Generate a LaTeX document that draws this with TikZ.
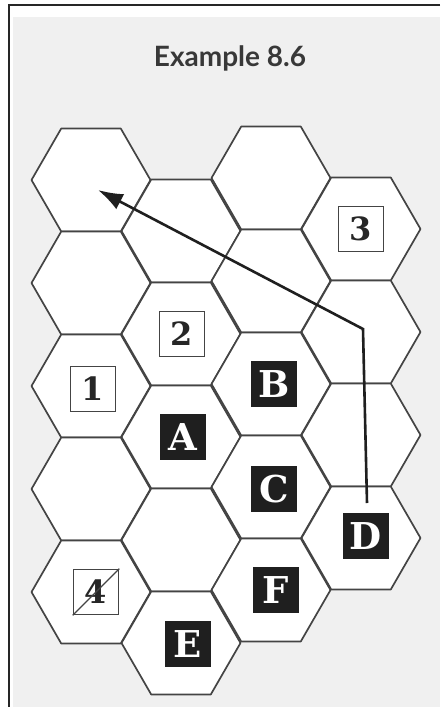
\documentclass[tikz,border=0pt]{standalone}
\usepackage{fontspec}
\usetikzlibrary{arrows.meta}
\newfontfamily\titlefont{Lato}
\newfontfamily\labelfont{DejaVu Serif}
\definecolor{paper}{HTML}{F0F0F0}
\definecolor{hexedge}{HTML}{444444}
\tikzset{
  hexline/.style={draw=hexedge, line width=1.7pt, fill=white, line join=round},
  hexcell/.pic={\path[hexline] (0:59.5) -- (60:59.5) -- (120:59.5) -- (180:59.5) -- (240:59.5) -- (300:59.5) -- cycle;},
  numbox/.style={draw=hexedge, line width=1.6pt, fill=white, minimum size=45pt, inner sep=0pt, font=\labelfont\bfseries\fontsize{32}{32}\selectfont, text=black!85},
  letbox/.style={draw=black!88, fill=black!88, minimum size=45pt, inner sep=0pt, font=\labelfont\bfseries\fontsize{37}{37}\selectfont, text=white},
  route/.style={draw=black!88, line width=2.6pt, line join=miter, -{Latex[length=25pt,width=17pt]}}
}
\begin{document}
\begin{tikzpicture}[x=1pt,y=-1pt]
\useasboundingbox (0,0) rectangle (440,707);
\fill[white] (0,0) rectangle (440,707);
\fill[paper] (13,17) rectangle (440,707);
\draw[black!85, line width=1.4pt] (440,5) -- (9,5) -- (9,707);
\node[font=\titlefont\bfseries\fontsize{28}{28}\selectfont, text=black!78] (title) at (230,58) {Example 8.6};
% column 1
\foreach \yy in {180,283,386,489,592} { \pic at (91,\yy) {hexcell}; }
% column 2
\foreach \yy in {231,334,437,540,643} { \pic at (181,\yy) {hexcell}; }
% column 3
\foreach \yy in {178,281,384,487,590} { \pic at (271,\yy) {hexcell}; }
% column 4
\foreach \yy in {229,332,435,538} { \pic at (361,\yy) {hexcell}; }
% labels
\node[numbox] (n3) at (361,229) {3};
\node[numbox] (n2) at (182,334) {2};
\node[numbox] (n1) at (93,389) {1};
\node[numbox] (n4) at (96,592) {4};
\draw[hexedge, line width=1.4pt] (n4.south west) -- (n4.north east);
\node[letbox] (B) at (274,384) {B};
\node[letbox] (A) at (183,437) {A};
\node[letbox] (C) at (274,489) {C};
\node[letbox] (D) at (366,536) {D};
\node[letbox] (F) at (276,590) {F};
\node[letbox] (E) at (188,644) {E};
% route
\coordinate (start) at (367,503);
\coordinate (bend) at (363,329);
\coordinate (tip) at (98,190);
\draw[route] (start) -- (bend) -- (tip);
\end{tikzpicture}
\end{document}
